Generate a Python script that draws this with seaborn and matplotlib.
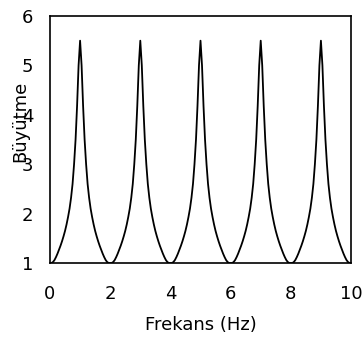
import numpy as np
import matplotlib
matplotlib.use("Agg")
import matplotlib.pyplot as plt
import seaborn as sns

# okuma noktalari: 0.05 Hz aralik
frekans = np.linspace(0, 10, 201)

# grafikten okunan buyutme degerleri (0-10 Hz)
buyutme = [
    1.00, 1.00, 1.02, 1.06, 1.12, 1.19, 1.27, 1.35, 1.44, 1.54,
    1.65, 1.78, 1.93, 2.10, 2.32, 2.60, 3.00, 3.50, 4.18, 5.00,
    5.50, 5.00, 4.18, 3.50, 3.00, 2.60, 2.32, 2.10, 1.93, 1.78,
    1.65, 1.54, 1.44, 1.35, 1.27, 1.19, 1.12, 1.06, 1.02, 1.00,
    1.00, 1.00, 1.02, 1.06, 1.12, 1.19, 1.27, 1.35, 1.44, 1.54,
    1.65, 1.78, 1.93, 2.10, 2.32, 2.60, 3.00, 3.50, 4.18, 5.00,
    5.50, 5.00, 4.18, 3.50, 3.00, 2.60, 2.32, 2.10, 1.93, 1.78,
    1.65, 1.54, 1.44, 1.35, 1.27, 1.19, 1.12, 1.06, 1.02, 1.00,
    1.00, 1.00, 1.02, 1.06, 1.12, 1.19, 1.27, 1.35, 1.44, 1.54,
    1.65, 1.78, 1.93, 2.10, 2.32, 2.60, 3.00, 3.50, 4.18, 5.00,
    5.50, 5.00, 4.18, 3.50, 3.00, 2.60, 2.32, 2.10, 1.93, 1.78,
    1.65, 1.54, 1.44, 1.35, 1.27, 1.19, 1.12, 1.06, 1.02, 1.00,
    1.00, 1.00, 1.02, 1.06, 1.12, 1.19, 1.27, 1.35, 1.44, 1.54,
    1.65, 1.78, 1.93, 2.10, 2.32, 2.60, 3.00, 3.50, 4.18, 5.00,
    5.50, 5.00, 4.18, 3.50, 3.00, 2.60, 2.32, 2.10, 1.93, 1.78,
    1.65, 1.54, 1.44, 1.35, 1.27, 1.19, 1.12, 1.06, 1.02, 1.00,
    1.00, 1.00, 1.02, 1.06, 1.12, 1.19, 1.27, 1.35, 1.44, 1.54,
    1.65, 1.78, 1.93, 2.10, 2.32, 2.60, 3.00, 3.50, 4.18, 5.00,
    5.50, 5.00, 4.18, 3.50, 3.00, 2.60, 2.32, 2.10, 1.93, 1.78,
    1.65, 1.54, 1.44, 1.35, 1.27, 1.19, 1.12, 1.06, 1.02, 1.00,
    1.00,
]

x_ticks = [0, 2, 4, 6, 8, 10]
y_ticks = [1, 2, 3, 4, 5, 6]

sns.set_style("white")
plt.rcParams["font.family"] = ["DejaVu Sans"]
plt.rcParams["text.color"] = "black"

fig = plt.figure(figsize=(3.63, 3.38), dpi=100)
ax = fig.add_axes([0.1377, 0.2219, 0.8293, 0.7308])

sns.lineplot(x=frekans, y=buyutme, color="black", linewidth=1.3, ax=ax)

ax.set_xlim(0, 10)
ax.set_ylim(1, 6)
ax.set_xticks(x_ticks)
ax.set_yticks(y_ticks)
ax.tick_params(axis="both", labelsize=13, length=2, color="#bbbbbb",
               labelcolor="black", direction="out")
ax.tick_params(axis="x", pad=14)
ax.tick_params(axis="y", pad=10)

for s in ax.spines.values():
    s.set_color("black")
    s.set_linewidth(1.2)

ax.set_xlabel("Frekans (Hz)", fontsize=13, color="black")
ax.set_ylabel("Büyütme", fontsize=13, color="black")
ax.xaxis.set_label_coords(0.5, -0.215)
ax.yaxis.set_label_coords(-0.07, 0.575)

fig.savefig("out.png", dpi=100)
